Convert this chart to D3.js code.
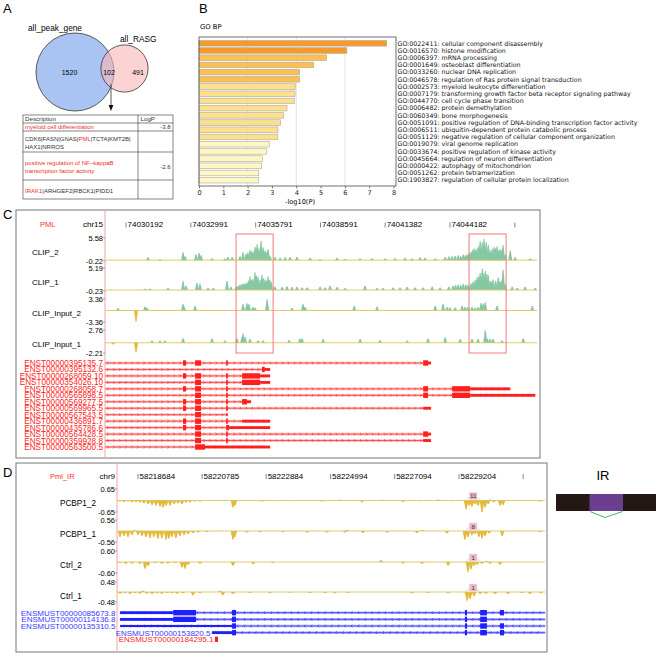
<!DOCTYPE html>
<html>
<head>
<meta charset="utf-8">
<script src="https://cdn.jsdelivr.net/npm/d3@7"></script>
<style>
  body { margin: 0; background: #fff; }
  svg { display: block; }
</style>
</head>
<body>
<div id="fig"></div>
<script>
// ---------------- data ----------------

// A: venn + enrichment table
const vennNames = ["all_peak_gene", "all_RASG"];
const vennOnly = [1520, 491];
const vennBoth = 102;
const tableTerms = [["myeloid cell differentiation"],
                    ["positive regulation of NF\u2212kappaB", "transcription factor activity"]];
const tableLogP = [-3.8, -2.6];
const tableGenes = [["CDK6", "FASN", "GNAS", "PML", "TCTA", "KMT2B", "HAX1", "NRROS"],
                    ["IRAK1", "ARHGEF2", "RBCK1", "PIDD1"]];
const redGenes = ["PML", "IRAK1"];

// B: GO BP bars
const goIds = ["GO:0022411", "GO:0016570", "GO:0006397", "GO:0001649", "GO:0033260",
  "GO:0046578", "GO:0002573", "GO:0007179", "GO:0044770", "GO:0006482",
  "GO:0060349", "GO:0051091", "GO:0006511", "GO:0051129", "GO:0019079",
  "GO:0033674", "GO:0045664", "GO:0000422", "GO:0051262", "GO:1903827"];
const goNames = ["cellular component disassembly", "histone modification", "mRNA processing",
  "osteoblast differentiation", "nuclear DNA replication", "regulation of Ras protein signal transduction",
  "myeloid leukocyte differentiation", "transforming growth factor beta receptor signaling pathway",
  "cell cycle phase transition", "protein demethylation", "bone morphogenesis",
  "positive regulation of DNA-binding transcription factor activity",
  "ubiquitin-dependent protein catabolic process", "negative regulation of cellular component organization",
  "viral genome replication", "positive regulation of kinase activity",
  "regulation of neuron differentiation", "autophagy of mitochondrion",
  "protein tetramerization", "regulation of cellular protein localization"];
const goLogP = [7.72, 6.08, 5.25, 4.72, 4.14, 4.14, 3.96, 3.95, 3.92, 3.62,
  3.48, 3.36, 3.25, 3.24, 2.89, 2.79, 2.62, 2.58, 2.46, 2.45];

// C: PML locus, chr15 (positions in kb from cStart)
const cStart = 74029285;
const cEnd = 74047940;
const cTicks = [74030192, 74032991, 74035791, 74038591, 74041382, 74044182, 74046982];
const cTrackNames = ["CLIP_2", "CLIP_1", "CLIP_Input_2", "CLIP_Input_1"];
const cTrackMax = [5.58, 5.19, 3.36, 2.76];
const cTrackMin = [-0.22, -0.23, -3.36, -2.21];
const clip2 = [[1.86,0.7],[2.38,0.3],[3.37,2.0],[3.46,1.0],[3.93,1.5],[4.06,1.8],[4.15,1.2],[4.62,0.5],
  [5.18,0.4],[5.31,0.8],[5.49,0.8],[5.83,1.0],[5.96,2.0],[6.09,1.6],[6.17,1.9],[6.26,2.6],[6.33,2.2],[6.39,2.2],
  [6.48,3.4],[6.57,4.0],[6.65,3.0],[6.74,4.9],[6.83,3.2],[6.91,2.4],[6.97,2.0],[7.04,2.8],[7.13,1.0],
  [7.34,0.8],[7.56,0.6],[7.78,0.7],[7.99,0.8],[8.29,0.8],[8.86,0.6],[9.29,0.3],[10.02,0.6],[10.37,0.3],
  [11.02,0.4],[11.53,0.5],[12.10,0.4],[12.53,0.5],[12.96,0.6],[13.26,0.4],[13.61,0.7],[13.82,0.6],
  [14.26,0.4],[14.69,0.8],[14.85,0.9],[14.99,1.0],[15.12,1.1],[15.25,1.2],[15.36,1.0],[15.47,1.4],[15.56,1.2],[15.64,1.4],
  [15.73,1.8],[15.81,2.2],[15.88,2.6],[15.94,3.0],[16.01,2.6],[16.07,3.0],[16.14,3.6],[16.20,4.8],[16.29,4.5],
  [16.37,5.3],[16.46,4.6],[16.55,3.8],[16.63,2.5],[16.72,2.9],[16.80,3.3],[16.87,3.0],[16.93,3.5],[17.00,2.4],
  [17.06,2.8],[17.13,2.5],[17.19,3.8],[17.28,1.5],[17.50,2.4],[17.71,0.7],[18.36,0.4]];
const clip1 = [[1.73,0.3],[1.94,0.3],[2.72,0.5],[3.37,2.1],[3.50,1.0],[3.97,1.7],[4.10,1.5],[4.45,0.5],
  [4.67,0.5],[5.27,2.1],[5.44,0.8],[5.66,0.8],[5.75,1.0],[5.83,1.3],[5.92,1.4],[6.00,1.6],[6.07,1.5],[6.13,1.8],[6.20,2.2],
  [6.26,3.2],[6.33,2.4],[6.39,2.6],[6.48,4.2],[6.55,3.4],[6.61,3.0],[6.70,2.4],[6.78,3.6],[6.85,2.8],[6.91,2.5],
  [6.98,2.2],[7.04,3.2],[7.11,2.4],[7.17,2.0],[7.34,0.8],[7.65,0.7],[7.86,0.9],[8.08,0.7],[8.29,0.8],[8.51,0.6],
  [8.73,0.6],[9.29,0.8],[9.50,0.6],[9.72,1.0],[10.02,0.7],[10.37,0.5],[11.23,1.0],[11.75,0.5],[12.01,0.5],
  [12.44,0.6],[12.74,0.6],[13.05,0.7],[13.39,0.6],[13.74,0.6],[14.13,0.8],[14.47,0.6],[14.85,0.8],[15.03,1.0],[15.14,1.1],
  [15.25,1.3],[15.36,1.2],[15.47,1.5],[15.58,1.3],[15.68,1.2],[15.80,1.6],[15.90,2.0],[15.99,2.4],[16.07,3.0],[16.14,3.2],[16.20,4.0],
  [16.29,5.1],[16.36,4.0],[16.42,4.5],[16.49,3.8],[16.55,3.5],[16.63,2.2],[16.70,2.0],[16.76,2.5],[16.87,2.2],[16.98,3.0],
  [17.05,2.0],[17.11,2.2],[17.19,4.8],[17.28,1.5],[17.58,0.8],[17.80,0.5],[18.14,0.8],[18.58,0.5]];
const input2 = [[0.56,0.7],[1.34,-3.3],[1.73,1.2],[1.81,0.8],[3.37,1.9],[3.41,1.2],[3.89,1.4],[5.96,1.9],
  [6.13,2.1],[6.22,1.9],[6.39,1.0],[6.48,0.8],[7.00,3.2],[8.08,0.7],[8.55,1.9],[8.64,1.0],[10.76,1.4],
  [11.75,1.2],[14.26,1.4],[14.60,2.0],[14.77,1.0],[14.90,0.9],[15.12,0.9],[15.42,1.4],[15.55,1.0],
  [15.68,1.0],[15.85,1.0],[15.98,0.8],[16.11,1.0],[16.24,2.2],[16.33,2.0],[16.42,2.4],[16.93,1.4],[18.45,1.3]];
const input1 = [[0.35,-0.4],[1.34,-2.1],[2.03,0.5],[2.38,0.5],[2.59,0.5],[3.37,1.0],[4.62,1.0],[5.18,0.5],
  [5.70,0.9],[5.92,1.2],[5.96,2.0],[6.05,1.3],[6.26,0.8],[6.61,0.5],[6.83,0.5],[7.95,0.6],[8.42,0.9],
  [8.51,0.9],[9.42,0.8],[11.02,0.8],[11.88,0.6],[13.05,0.5],[13.95,0.9],[14.69,1.2],[15.34,0.8],
  [15.85,0.8],[16.11,0.8],[16.42,2.7],[16.50,1.0],[16.63,0.8],[16.76,0.8],[17.15,0.5],[18.06,1.0]];
const cTrackPeaks = [clip2, clip1, input2, input1];
const cBoxes = [[5.66, 7.26], [15.72, 17.32]];
const cTxNames = ["ENST00000395135.7", "ENST00000395132.6", "ENST00000268059.10", "ENST00000354026.10",
  "ENST00000268058.7", "ENST00000565898.5", "ENST00000569277.5", "ENST00000569965.5",
  "ENST00000567543.5", "ENST00000436891.7", "ENST00000435786.6", "ENST00000564428.5",
  "ENST00000359928.8", "ENST00000563500.5"];
const cTxEnds = [14.08, 7.13, 7.13, 7.13, 17.50, 18.58, 6.31, 14.08, 5.30, 7.13, 7.13, 14.08, 14.08, 7.13];
const cTxBlocks = [
  [[3.37,3.50,"c"],[3.89,4.15,"c"],[5.23,5.30,"c"],[13.74,13.95,"c"],[13.95,14.08,"u"]],
  [[6.78,6.90,"c"],[6.90,7.13,"u"]],
  [[3.37,3.50,"c"],[3.89,4.15,"c"],[5.23,5.30,"c"],[5.92,6.70,"c"],[6.70,7.13,"u"]],
  [[3.89,4.15,"c"],[5.23,5.30,"c"],[5.92,6.70,"c"],[6.70,7.13,"u"]],
  [[3.37,3.50,"c"],[3.89,4.15,"c"],[5.23,5.30,"c"],[13.74,13.95,"c"],[14.99,15.77,"c"],[15.77,17.50,"u"]],
  [[3.89,4.15,"c"],[5.23,5.30,"c"],[13.74,13.95,"c"],[14.99,15.77,"c"],[15.77,18.58,"u"]],
  [[3.37,3.50,"c"],[3.89,4.15,"c"],[5.23,5.30,"c"],[5.92,6.13,"c"],[6.13,6.31,"u"]],
  [[3.37,3.50,"c"],[3.89,4.15,"c"],[5.23,5.30,"c"],[13.74,14.08,"u"]],
  [[3.89,4.15,"c"],[5.23,5.30,"u"]],
  [[3.37,3.50,"c"],[3.89,4.15,"c"],[5.23,5.30,"c"],[5.92,7.13,"u"]],
  [[3.37,3.50,"c"],[3.89,4.15,"c"],[5.23,5.36,"c"],[5.36,7.13,"u"]],
  [[3.89,4.15,"c"],[5.23,5.30,"c"],[13.74,13.95,"c"],[13.95,14.08,"u"]],
  [[3.89,4.15,"c"],[5.23,5.30,"c"],[13.74,14.08,"u"]],
  [[3.89,4.32,"c"],[4.32,7.13,"u"]]];

// D: Pml intron retention, chr9 (positions in kb from dStart)
const dStart = 58217996;
const dEnd = 58232020;
const dTicks = [58218684, 58220785, 58222884, 58224994, 58227094, 58229204, 58231304];
const dTrackNames = ["PCBP1_2", "PCBP1_1", "Ctrl_2", "Ctrl_1"];
const dTrackMax = [0.65, 0.56, 0.60, 0.48];
const pcbp2 = [[0.10,-0.05],[0.23,-0.08],[0.36,-0.06],[0.49,-0.1],[0.62,-0.08],[0.75,-0.12],[0.88,-0.15],
  [1.02,-0.2],[1.15,-0.25],[1.28,-0.3],[1.41,-0.35],[1.51,-0.4],[1.61,-0.3],[1.74,-0.28],[1.87,-0.2],
  [2.00,-0.15],[2.13,-0.2],[2.26,-0.12],[2.39,-0.1],[2.56,-0.06],[2.72,-0.05],[3.80,-0.4],[3.86,-0.3],
  [4.75,-0.05],[5.24,-0.04],[5.77,-0.04],[6.16,-0.03],[6.72,-0.05],[7.31,0.05],[8.03,-0.1],[8.68,0.04],
  [9.37,-0.08],[9.93,-0.04],[10.52,0.05],[10.98,-0.04],[11.44,-0.49],[11.54,-0.3],[11.63,-0.35],
  [11.73,-0.2],[11.83,-0.3],[11.96,-0.65],[12.06,-0.4],[12.16,-0.2],[12.22,0.05],[12.35,-0.1],
  [12.55,-0.3],[12.65,-0.25],[13.21,-0.03],[13.86,-0.05]];
const pcbp1 = [[0.10,-0.3],[0.23,-0.25],[0.36,-0.3],[0.49,-0.2],[0.59,0.05],[0.69,-0.2],[0.82,-0.25],
  [0.95,-0.3],[1.08,-0.35],[1.21,-0.3],[1.34,-0.4],[1.47,-0.38],[1.61,-0.45],[1.70,-0.4],[1.80,-0.3],
  [1.93,-0.35],[2.06,-0.25],[2.20,-0.2],[2.33,-0.15],[2.49,-0.1],[2.65,-0.08],[2.95,-0.05],[3.80,-0.45],
  [3.86,-0.3],[4.26,-0.08],[4.69,-0.06],[5.44,-0.06],[6.23,-0.08],[6.88,-0.08],[7.47,-0.08],[7.54,0.05],
  [8.06,-0.1],[8.85,-0.08],[9.83,-0.1],[10.00,0.05],[10.81,-0.12],[11.40,-0.45],[11.50,-0.3],
  [11.63,-0.2],[11.73,-0.15],[11.86,-0.3],[11.96,-0.38],[12.06,-0.25],[12.19,-0.12],[12.62,-0.25],[13.86,-0.05]];
const ctrl2 = [[0.10,-0.05],[0.29,-0.1],[0.49,-0.08],[0.75,-0.1],[0.92,-0.37],[1.02,-0.2],[1.25,-0.05],
  [1.47,-0.1],[1.67,-0.08],[1.90,-0.05],[2.13,-0.3],[2.23,-0.37],[2.33,-0.15],[2.72,-0.1],[3.80,-0.2],
  [4.46,-0.12],[5.11,-0.05],[8.65,0.1],[9.37,-0.08],[10.00,-0.1],[10.85,-0.2],[11.50,-0.53],[11.60,-0.4],
  [11.70,-0.2],[11.80,-0.15],[11.96,-0.1],[12.12,0.05],[12.22,-0.1],[12.55,-0.15]];
const ctrl1 = [[0.10,-0.08],[0.26,-0.05],[0.43,-0.1],[0.59,-0.06],[0.75,-0.08],[0.85,0.06],[0.98,-0.08],
  [1.15,-0.1],[1.31,-0.06],[1.47,-0.08],[1.64,-0.05],[1.80,-0.06],[1.97,-0.08],[2.16,-0.06],[2.49,-0.15],
  [2.72,-0.06],[3.38,0.06],[3.47,-0.15],[3.80,-0.1],[4.36,-0.05],[5.01,-0.06],[5.67,-0.04],[6.32,-0.05],
  [6.82,-0.05],[7.14,-0.06],[7.57,-0.05],[9.67,-0.06],[10.19,-0.05],[10.85,-0.06],[11.47,-0.42],
  [11.57,-0.35],[11.70,-0.2],[11.90,-0.1],[12.09,-0.08],[12.39,-0.1],[12.81,-0.1],[13.27,-0.05],
  [13.53,-0.1],[13.89,-0.06]];
const dTrackPeaks = [pcbp2, pcbp1, ctrl2, ctrl1];
const dJunctionPos = 11.67;
const dJunctionCounts = [11, 8, 1, 1];
const dTxNames = ["ENSMUST00000085673.8", "ENSMUST00000114136.8", "ENSMUST00000135310.5",
  "ENSMUST00000153820.5", "ENSMUST00000184295.1"];
const dTxStarts = [0.10, 0.10, 0.10, 3.11, 3.21];
const dTxEnds = [14.03, 14.03, 14.03, 14.03, 3.31];
const dTxBlocks = [
  [[0.10,1.84,"u"],[1.84,2.59,"c"],[3.77,3.90,"c"],[11.40,11.47,"c"],[11.90,12.12,"c"],[12.55,12.68,"c"]],
  [[0.10,1.84,"u"],[1.84,2.59,"c"],[3.77,3.90,"c"],[11.40,11.47,"c"],[11.90,12.12,"c"]],
  [[0.10,3.77,"t"],[3.77,3.90,"c"],[11.40,11.47,"c"],[11.90,12.12,"c"],[12.55,12.68,"c"]],
  [[3.11,3.77,"u"],[3.77,3.90,"c"],[11.40,11.47,"c"],[11.90,12.12,"c"],[12.55,12.68,"c"]],
  [[3.21,3.31,"c"]]];

// ---------------- drawing ----------------
const W = 669, H = 656;
const sans = "Liberation Sans, Arial, Helvetica, sans-serif";
const mpl = "DejaVu Sans, sans-serif";
const teal = "#86c8a3", gold = "#e2b93b", baseCol = "#dcc55e";

const svg = d3.select("#fig").append("svg")
  .attr("width", W).attr("height", H)
  .attr("font-family", sans);

function panelLetter(t, x, y) {
  svg.append("text").attr("x", x).attr("y", y).attr("font-size", 13).text(t);
}

/* ---------- A ---------- */
panelLetter("A", 3, 13);
const rScale = d3.scaleSqrt().domain([0, vennOnly[0] + vennBoth]).range([0, 39]);
const vennC = [[75, 72], [124.5, 68.5]];
svg.append("circle").attr("cx", vennC[0][0]).attr("cy", vennC[0][1])
  .attr("r", rScale(vennOnly[0] + vennBoth))
  .attr("fill", "#a9c3f2").attr("stroke", "#333").attr("stroke-width", 0.8);
svg.append("circle").attr("cx", vennC[1][0]).attr("cy", vennC[1][1])
  .attr("r", rScale(vennOnly[1] + vennBoth))
  .attr("fill", "#f8b8b8").attr("fill-opacity", 0.62).attr("stroke", "#333").attr("stroke-width", 0.8);
svg.append("text").attr("x", 28).attr("y", 31).attr("font-size", 8.3).text(vennNames[0]);
svg.append("text").attr("x", 120).attr("y", 42).attr("font-size", 8.3).text(vennNames[1]);
[[69.5, vennOnly[0]], [109, vennBoth], [138, vennOnly[1]]].forEach(d => {
  svg.append("text").attr("x", d[0]).attr("y", 74.5).attr("text-anchor", "middle")
    .attr("font-size", 7).text(d[1]);
});
// arrow down to table
svg.append("line").attr("x1", 111).attr("x2", 111).attr("y1", 84).attr("y2", 106)
  .attr("stroke", "#111").attr("stroke-width", 0.7);
svg.append("path").attr("d", "M108.6,105 L113.4,105 L111,111 Z").attr("fill", "#111");

// table
const tX = [23, 138, 173];
const tY = [115, 123, 131, 152, 180, 199];
const tg = svg.append("g").attr("stroke", "#333").attr("stroke-width", 0.6);
tg.append("rect").attr("x", tX[0]).attr("y", tY[0]).attr("width", tX[2] - tX[0]).attr("height", tY[5] - tY[0]).attr("fill", "none");
tY.slice(1, 5).forEach(y => tg.append("line").attr("x1", tX[0]).attr("x2", tX[2]).attr("y1", y).attr("y2", y));
tg.append("line").attr("x1", tX[1]).attr("x2", tX[1]).attr("y1", tY[0]).attr("y2", tY[5]);
const tfs = 6;
svg.append("text").attr("x", 25).attr("y", 121.3).attr("font-size", 6.2).attr("fill", "#333").text("Description");
svg.append("text").attr("x", 140.5).attr("y", 121.3).attr("font-size", 6.2).attr("fill", "#333").text("LogP");
const termY = [[129.3], [165, 173.3]];
const logPY = [129.3, 169];
const geneY = [[140.5, 149], [193]];
tableTerms.forEach((lines, i) => {
  lines.forEach((ln, j) => {
    svg.append("text").attr("x", 25).attr("y", termY[i][j]).attr("font-size", tfs)
      .attr("fill", "#ee2b2b").text(ln);
  });
  svg.append("text").attr("x", 170.5).attr("y", logPY[i]).attr("font-size", tfs)
    .attr("text-anchor", "end").attr("fill", "#333").text(tableLogP[i]);
  // gene lists, wrapped after 6 genes
  const chunks = [tableGenes[i].slice(0, 6), tableGenes[i].slice(6)].filter(c => c.length);
  chunks.forEach((chunk, j) => {
    const t = svg.append("text").attr("x", 25).attr("y", geneY[i][j]).attr("font-size", tfs).attr("fill", "#333");
    chunk.forEach((g, k) => {
      t.append("tspan").attr("fill", redGenes.includes(g) ? "#ee2b2b" : "#333").text(g);
      if (k < chunk.length - 1 || (j === 0 && chunks.length > 1)) t.append("tspan").text("|");
    });
  });
});

/* ---------- B ---------- */
panelLetter("B", 199, 13);
svg.append("text").attr("x", 200).attr("y", 29).attr("font-size", 6.8).attr("font-family", mpl).text("GO BP");
const xB = d3.scaleLinear().domain([0, 8]).range([199, 393.5]);
const yB = d3.scaleBand().domain(d3.range(goLogP.length)).range([40.5, 183]).paddingInner(0.22);
const barCol = d3.scaleThreshold().domain([3.0, 4.05, 5.8])
  .range(["#fff6c3", "#fedf8b", "#fdc04f", "#f89a2a"]);
const gB = svg.append("g");
gB.selectAll("line.grid").data([2, 4, 6]).join("line")
  .attr("x1", d => xB(d)).attr("x2", d => xB(d)).attr("y1", 37).attr("y2", 186)
  .attr("stroke", "#d9d9d9").attr("stroke-width", 0.8);
gB.selectAll("rect.bar").data(goLogP).join("rect")
  .attr("x", xB(0)).attr("y", (d, i) => yB(i))
  .attr("width", d => xB(d) - xB(0)).attr("height", yB.bandwidth())
  .attr("fill", d => barCol(d)).attr("stroke", "#aaa").attr("stroke-width", 0.6);
gB.append("rect").attr("x", 199).attr("y", 37).attr("width", 197).attr("height", 149)
  .attr("fill", "none").attr("stroke", "#333").attr("stroke-width", 0.7);
const axB = gB.append("g").attr("transform", "translate(0,186)")
  .call(d3.axisBottom(xB).ticks(8).tickSize(2.5).tickPadding(1.5));
axB.select(".domain").remove();
axB.selectAll("text").attr("font-family", mpl).attr("font-size", 6.6).attr("fill", "#222");
axB.selectAll("line").attr("stroke", "#333").attr("stroke-width", 0.6);
gB.append("text").attr("x", 300).attr("y", 203.5).attr("text-anchor", "middle")
  .attr("font-family", mpl).attr("font-size", 6.6).text("-log10(P)");
gB.selectAll("text.go").data(goIds).join("text")
  .attr("x", 397.5).attr("y", (d, i) => yB(i) + yB.bandwidth() / 2 + 2.2)
  .attr("font-family", mpl).attr("font-size", 6.3).attr("fill", "#111")
  .text((d, i) => d + ": " + goNames[i]);

/* ---------- shared track helpers ---------- */
function coverage(g, peaks, xk, yTop, yBot, vmin, vmax, hw, x0, x1) {
  const y = d3.scaleLinear().domain([vmin, vmax]).range([yBot, yTop]);
  const area = d3.area().x(p => xk(p[0])).y0(y(0)).y1(p => y(p[1]));
  g.append("g").selectAll("path").data(peaks).join("path")
    .attr("d", d => area([[d[0] - hw, 0], [d[0] - hw * 0.25, d[1]], [d[0] + hw * 0.25, d[1]], [d[0] + hw, 0]]))
    .attr("fill", d => d[1] >= 0 ? teal : gold);
  g.append("line").attr("x1", x0).attr("x2", x1).attr("y1", y(0)).attr("y2", y(0))
    .attr("stroke", baseCol).attr("stroke-width", 0.9);
  return y;
}

function scaleLabels(g, x, yTop, yBot, vmax, vmin, fs) {
  [[yTop, vmax], [yBot, vmin]].forEach(d => {
    g.append("text").attr("x", x - 2).attr("y", d[0] + 2.6).attr("text-anchor", "end")
      .attr("font-size", fs).text(d[1].toFixed(2));
    g.append("line").attr("x1", x - 2).attr("x2", x).attr("y1", d[0]).attr("y2", d[0])
      .attr("stroke", "#555").attr("stroke-width", 0.5);
  });
}

function transcript(g, xk, y, s, e, blocks, col, halo, step, dir) {
  g.append("line").attr("x1", xk(s)).attr("x2", xk(e)).attr("y1", y).attr("y2", y)
    .attr("stroke", halo).attr("stroke-width", 2.6);
  g.append("line").attr("x1", xk(s)).attr("x2", xk(e)).attr("y1", y).attr("y2", y)
    .attr("stroke", col).attr("stroke-width", 0.7);
  const marks = d3.range(s + step / 2, e - step / 3, step);
  g.append("g").selectAll("path").data(marks).join("path")
    .attr("d", k => {
      const x = xk(k);
      return dir > 0 ? `M${x - 0.8},${y - 1.4}L${x + 0.6},${y}L${x - 0.8},${y + 1.4}`
                     : `M${x + 0.8},${y - 1.4}L${x - 0.6},${y}L${x + 0.8},${y + 1.4}`;
    })
    .attr("fill", "none").attr("stroke", col).attr("stroke-width", 0.6);
  g.append("g").selectAll("rect").data(blocks).join("rect")
    .attr("x", b => xk(b[0]))
    .attr("width", b => Math.max(1.3, xk(b[1]) - xk(b[0])))
    .attr("y", b => y - (b[2] === "c" ? 2.7 : b[2] === "u" ? 1.4 : 1.0))
    .attr("height", b => b[2] === "c" ? 5.4 : b[2] === "u" ? 2.8 : 2.0)
    .attr("fill", col);
}

/* ---------- C ---------- */
panelLetter("C", 3, 219);
const gC = svg.append("g");
gC.append("rect").attr("x", 16).attr("y", 210).attr("width", 524).attr("height", 248)
  .attr("fill", "none").attr("stroke", "#777").attr("stroke-width", 1);
const xC = d3.scaleLinear().domain([0, (cEnd - cStart) / 1000]).range([105, 537]);
gC.append("line").attr("x1", 105).attr("x2", 105).attr("y1", 210).attr("y2", 458)
  .attr("stroke", "#f5a3a3").attr("stroke-width", 1);
gC.append("text").attr("x", 40).attr("y", 227).attr("font-size", 7.5).attr("fill", "#ff2a2a").text("PML");
gC.append("text").attr("x", 103).attr("y", 227).attr("text-anchor", "end").attr("font-size", 8).text("chr15");
gC.selectAll("g.tk").data(cTicks).join("g").each(function (t, i) {
  const x = xC((t - cStart) / 1000);
  const s = d3.select(this);
  s.append("line").attr("x1", x).attr("x2", x).attr("y1", 222.5).attr("y2", 227.5)
    .attr("stroke", "#333").attr("stroke-width", 0.6);
  if (i < cTicks.length - 1) s.append("text").attr("x", x + 1.5).attr("y", 227.3).attr("font-size", 8).text(t);
});
const cTop = [238, 268, 299, 330], cH = 23;
cTrackNames.forEach((nm, i) => {
  coverage(gC, cTrackPeaks[i], xC, cTop[i], cTop[i] + cH, cTrackMin[i], cTrackMax[i], 0.085, 105, 537);
  scaleLabels(gC, 105, cTop[i], cTop[i] + cH, cTrackMax[i], cTrackMin[i], 7.5);
  gC.append("text").attr("x", 32).attr("y", cTop[i] + 16.5).attr("font-size", 8).text(nm);
});
gC.selectAll("rect.hl").data(cBoxes).join("rect")
  .attr("x", d => xC(d[0])).attr("width", d => xC(d[1]) - xC(d[0]))
  .attr("y", 234).attr("height", 119)
  .attr("fill", "none").attr("stroke", "#f07a7a").attr("stroke-width", 1);
const cTxY = d3.scaleLinear().domain([0, cTxNames.length - 1]).range([363, 447]);
cTxNames.forEach((nm, i) => {
  transcript(gC, xC, cTxY(i), 0, cTxEnds[i], cTxBlocks[i], "#ff1f1f", "#ffc4c4", 0.26, 1);
  gC.append("text").attr("x", 103).attr("y", cTxY(i) + 3).attr("text-anchor", "end")
    .attr("font-size", 8.2).attr("fill", "#ff2424").text(nm);
});

/* ---------- D ---------- */
panelLetter("D", 3, 477);
const gD = svg.append("g");
gD.append("rect").attr("x", 16).attr("y", 463).attr("width", 531).attr("height", 189)
  .attr("fill", "none").attr("stroke", "#777").attr("stroke-width", 1);
const xD = d3.scaleLinear().domain([0, (dEnd - dStart) / 1000]).range([117, 545]);
gD.append("line").attr("x1", 117).attr("x2", 117).attr("y1", 463).attr("y2", 652)
  .attr("stroke", "#f5a3a3").attr("stroke-width", 1);
gD.append("text").attr("x", 50).attr("y", 478.5).attr("font-size", 7.5).attr("fill", "#ff2a2a").text("Pml_IR");
gD.append("text").attr("x", 115).attr("y", 478.5).attr("text-anchor", "end").attr("font-size", 8).text("chr9");
gD.selectAll("g.tk").data(dTicks).join("g").each(function (t, i) {
  const x = xD((t - dStart) / 1000);
  const s = d3.select(this);
  s.append("line").attr("x1", x).attr("x2", x).attr("y1", 474).attr("y2", 479)
    .attr("stroke", "#333").attr("stroke-width", 0.6);
  if (i < dTicks.length - 1) s.append("text").attr("x", x + 1.5).attr("y", 478.5).attr("font-size", 8).text(t);
});
const dTop = [489, 520, 551, 582], dH = [23, 22, 22, 20];
dTrackNames.forEach((nm, i) => {
  const y = coverage(gD, dTrackPeaks[i], xD, dTop[i], dTop[i] + dH[i], -dTrackMax[i], dTrackMax[i], 0.075, 117, 545);
  scaleLabels(gD, 117, dTop[i], dTop[i] + dH[i], dTrackMax[i], -dTrackMax[i], 7.5);
  gD.append("text").attr("x", 60).attr("y", dTop[i] + 16.5).attr("font-size", 8.2).text(nm);
  // junction arc + count
  const jx = xD(dJunctionPos), y0 = y(0);
  gD.append("path").attr("d", `M${xD(11.40)},${y0} Q${jx},${y0 - 9} ${xD(11.92)},${y0}`)
    .attr("fill", "none").attr("stroke", "#c8c8c8").attr("stroke-width", 0.7);
  gD.append("rect").attr("x", jx - 3.8).attr("y", y0 - 8).attr("width", 7.6).attr("height", 7)
    .attr("fill", "#f2b5cb").attr("stroke", "#d8d8d8").attr("stroke-width", 0.4);
  gD.append("text").attr("x", jx).attr("y", y0 - 2.2).attr("text-anchor", "middle")
    .attr("font-size", 6.2).attr("fill", "#333").text(dJunctionCounts[i]);
});
const dTxY = d3.scaleLinear().domain([0, dTxNames.length - 1]).range([612.7, 639.3]);
dTxNames.forEach((nm, i) => {
  const isRed = i === dTxNames.length - 1;
  const col = isRed ? "#ff1f1f" : "#1f1fff";
  transcript(gD, xD, dTxY(i), dTxStarts[i], dTxEnds[i], dTxBlocks[i], col, isRed ? "none" : "#b8b8ff", 0.22, -1);
  const xe = dTxStarts[i] > 1 ? xD(dTxStarts[i]) - 1.5 : 115.5;
  gD.append("text").attr("x", xe).attr("y", dTxY(i) + 3).attr("text-anchor", "end")
    .attr("font-size", 8).attr("fill", isRed ? "#ff2424" : "#3a3aff").text(nm);
});

/* ---------- IR sketch ---------- */
const gI = svg.append("g");
gI.append("text").attr("x", 603).attr("y", 479.5).attr("text-anchor", "middle").attr("font-size", 13).text("IR");
gI.append("rect").attr("x", 556).attr("y", 494).attr("width", 100).attr("height", 17).attr("fill", "#231815");
gI.append("rect").attr("x", 589.5).attr("y", 494).attr("width", 33.5).attr("height", 17).attr("fill", "#6a3f8f");
gI.append("path").attr("d", "M590,511.5 L605,517.5 L622.5,511.5")
  .attr("fill", "none").attr("stroke", "#3fb36b").attr("stroke-width", 1);
</script>
</body>
</html>
